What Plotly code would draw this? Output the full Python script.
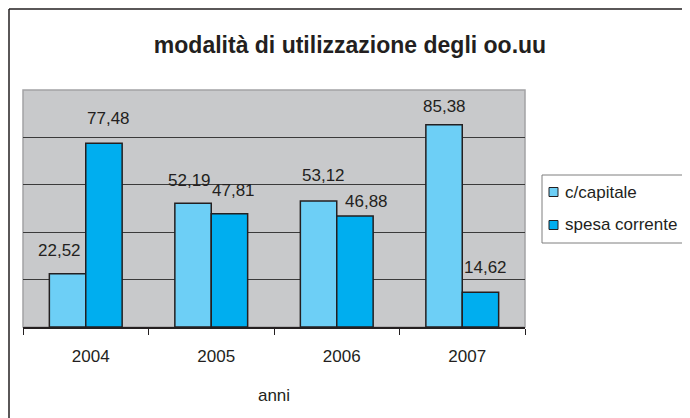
import plotly.graph_objects as go

# ---- data ----
years = ["2004", "2005", "2006", "2007"]
series_names = ["c/capitale", "spesa corrente"]
capitale = [22.52, 52.19, 53.12, 85.38]
spesa_corrente = [77.48, 47.81, 46.88, 14.62]
grid_values = [20, 40, 60, 80]

title_text = "modalità di utilizzazione degli oo.uu"
x_title = "anni"

# ---- style ----
colors = ["#6dcff6", "#00aeef"]
ink = "#231f20"
font_family = "Liberation Sans, Arial, sans-serif"
# small per-label nudges (pixels) to mimic the original label placement
label_dx = [[-8, -4, 5, 0], [5, 4, 12, 5]]
label_gap = [[17, 16, 19, 12], [18, 17, 8, 18]]

# page is 690x418; the html body has an 8px default margin
PAGE_W, PAGE_H, OFF = 690, 418, 8
W, H = PAGE_W - OFF, PAGE_H - OFF
ml, mr = 23 - OFF, PAGE_W - 525
mt, mb = 90 - OFF, PAGE_H - 327
pw, ph = W - ml - mr, H - mt - mb

bargap = 0.42
bar_w = (1 - bargap) / 2

fig = go.Figure()
for k, (name, vals) in enumerate(zip(series_names, [capitale, spesa_corrente])):
    fig.add_trace(go.Bar(
        x=years, y=vals, name=name,
        marker=dict(color=colors[k], line=dict(color=ink, width=1.5)),
        showlegend=False,
        hoverinfo="x+y+name",
    ))

def fmt(v):
    return f"{v:.2f}".replace(".", ",")

def px_to_paper_x(px):  # px in page coordinates
    return (px - OFF - ml) / pw

def px_to_paper_y(py):
    return (H - mb - (py - OFF)) / ph

annotations = []
for k, vals in enumerate([capitale, spesa_corrente]):
    offset = (-0.5 + k) * bar_w
    for i, v in enumerate(vals):
        annotations.append(dict(
            x=i + offset, y=v, xref="x", yref="y",
            text=fmt(v), showarrow=False,
            xanchor="center", yanchor="bottom",
            xshift=label_dx[k][i], yshift=label_gap[k][i] - 5,
            font=dict(family=font_family, size=17, color=ink),
        ))

shapes = [
    # plot area frame (light gray)
    dict(type="rect", xref="paper", yref="paper", x0=0, x1=1, y0=0, y1=1,
         line=dict(color="#a3a3a5", width=1.5), layer="below"),
    # outer chart border (left and top edges)
    dict(type="line", xref="paper", yref="paper",
         x0=px_to_paper_x(9), x1=px_to_paper_x(9),
         y0=px_to_paper_y(PAGE_H + 5), y1=px_to_paper_y(9),
         line=dict(color=ink, width=1.5)),
    dict(type="line", xref="paper", yref="paper",
         x0=px_to_paper_x(9), x1=px_to_paper_x(PAGE_W + 5),
         y0=px_to_paper_y(9), y1=px_to_paper_y(9),
         line=dict(color=ink, width=1.5)),
]

# legend (box, colour keys and names)
leg_left, leg_right, leg_top, leg_bottom = 542, 684, 175, 243
leg_rows = [192, 225]
shapes.append(dict(type="rect", xref="paper", yref="paper",
                   x0=px_to_paper_x(leg_left), x1=px_to_paper_x(leg_right),
                   y0=px_to_paper_y(leg_bottom), y1=px_to_paper_y(leg_top),
                   line=dict(color="#7f7f7f", width=1), fillcolor="white"))
for k, name in enumerate(series_names):
    cy = leg_rows[k]
    shapes.append(dict(type="rect", xref="paper", yref="paper",
                       x0=px_to_paper_x(549), x1=px_to_paper_x(558),
                       y0=px_to_paper_y(cy + 4.5), y1=px_to_paper_y(cy - 4.5),
                       line=dict(color=ink, width=1), fillcolor=colors[k]))
    annotations.append(dict(
        x=px_to_paper_x(563), y=px_to_paper_y(cy), xref="paper", yref="paper",
        text=name, showarrow=False, xanchor="left", yanchor="middle",
        font=dict(family=font_family, size=17, color=ink),
    ))

fig.update_layout(
    width=W, height=H,
    margin=dict(l=ml, r=mr, t=mt, b=mb, pad=0, autoexpand=False),
    paper_bgcolor="white",
    plot_bgcolor="#c8c9cb",
    barmode="group", bargap=bargap, bargroupgap=0,
    font=dict(family=font_family, size=16, color=ink),
    showlegend=False,
    title=dict(text="<b>" + title_text + "</b>", x=(350 - OFF) / W, xref="container",
               xanchor="center", y=1 - (45 - OFF) / H, yref="container", yanchor="middle",
               font=dict(family=font_family, size=23, color=ink)),
    xaxis=dict(
        showline=True, linecolor=ink, linewidth=1.5,
        ticks="outside", tickson="boundaries", ticklen=6,
        tickcolor=ink, tickwidth=1,
        tickfont=dict(family=font_family, size=17, color=ink),
        ticklabelshift=5, ticklabelstandoff=13,
        title=dict(text=x_title, standoff=24,
                   font=dict(family=font_family, size=17, color=ink)),
        showgrid=False, automargin=False,
    ),
    yaxis=dict(
        range=[0, 100], tickvals=grid_values, showticklabels=False,
        showgrid=True, gridcolor="#3a3a3a", gridwidth=1,
        zeroline=False, ticks="", automargin=False,
    ),
    annotations=annotations,
    shapes=shapes,
)

fig.write_html("out.html")
